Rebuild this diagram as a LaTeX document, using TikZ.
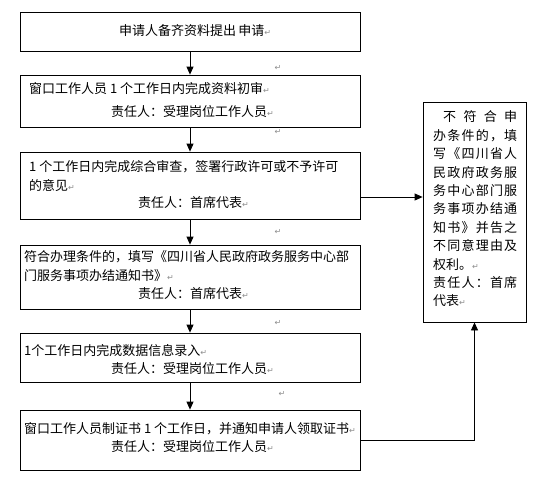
\documentclass[tikz,border=0pt]{standalone}
\usepackage{fontspec}
\usetikzlibrary{arrows.meta}
\newfontfamily\cjk{Noto Sans CJK SC}
\newfontfamily\symfont{DejaVu Sans}
\definecolor{retgray}{HTML}{8C8C8C}
\newcommand\retmk{{\color{retgray}\symfont\fontsize{8}{8}\selectfont ↵}}
\newcommand\rbline[1]{\makebox[84pt][s]{#1}}
\tikzset{
  box/.style={draw, line width=0.8pt, inner sep=0pt},
  txt/.style={anchor=west, inner sep=0pt, font=\cjk\fontsize{13}{13}\selectfont},
  mk/.style={inner sep=0pt},
  arr/.style={draw, line width=0.8pt, -{Triangle[length=8pt,width=7pt]}}
}
\begin{document}
\begin{tikzpicture}[x=1pt,y=-1pt]
\useasboundingbox (0,0) rectangle (540,490);
% boxes
\node[box, minimum width=340pt, minimum height=39pt] (b1) at (190,31.5) {};
\node[box, minimum width=340pt, minimum height=52pt] (b2) at (190,101) {};
\node[box, minimum width=340pt, minimum height=67pt] (b3) at (190,185.5) {};
\node[box, minimum width=340pt, minimum height=64pt] (b4) at (190,277) {};
\node[box, minimum width=340pt, minimum height=49pt] (b5) at (190,357.5) {};
\node[box, minimum width=340pt, minimum height=60pt] (b6) at (190,440) {};
\node[box, minimum width=103pt, minimum height=220pt] (r) at (474.5,212) {};
% texts
\node[txt] (t1) at (119,31) {申请人备齐资料提出\,申请\retmk};
\node[txt] (t2a) at (29,89) {窗口工作人员 1 个工作日内完成资料初审\retmk};
\node[txt] (t2b) at (111,112) {责任人：受理岗位工作人员\retmk};
\node[txt] (t3a) at (29,167) {1 个工作日内完成综合审查，签署行政许可或不予许可};
\node[txt] (t3b) at (29,185) {的意见\retmk};
\node[txt] (t3c) at (138,203) {责任人：首席代表\retmk};
\node[txt] (t4a) at (24,257) {符合办理条件的，填写《四川省人民政府政务服务中心部};
\node[txt] (t4b) at (24,276) {门服务事项办结通知书》\retmk};
\node[txt] (t4c) at (138,294) {责任人：首席代表\retmk};
\node[txt] (t5a) at (24,351) {1个工作日内完成数据信息录入\retmk};
\node[txt] (t5b) at (111,369) {责任人：受理岗位工作人员\retmk};
\node[txt] (t6a) at (24,429) {窗口工作人员制证书 1 个工作日，并通知申请人领取证书\retmk};
\node[txt] (t6b) at (111,447) {责任人：受理岗位工作人员\retmk};
% right box text
\node[txt] (r1) at (443,117) {\makebox[74pt][s]{不\hfil 符\hfil 合\hfil 申}};
\node[txt] (r2) at (433,135.4) {\rbline{办\hfil 条\hfil 件\hfil 的\hfil ，\hfil 填}};
\node[txt] (r3) at (433,153.8) {\rbline{写\hfil 《\hfil 四\hfil 川\hfil 省\hfil 人}};
\node[txt] (r4) at (433,172.2) {\rbline{民\hfil 政\hfil 府\hfil 政\hfil 务\hfil 服}};
\node[txt] (r5) at (433,190.6) {\rbline{务\hfil 中\hfil 心\hfil 部\hfil 门\hfil 服}};
\node[txt] (r6) at (433,209) {\rbline{务\hfil 事\hfil 项\hfil 办\hfil 结\hfil 通}};
\node[txt] (r7) at (433,227.4) {\rbline{知\hfil 书\hfil 》\hfil 并\hfil 告\hfil 之}};
\node[txt] (r8) at (433,245.8) {\rbline{不\hfil 同\hfil 意\hfil 理\hfil 由\hfil 及}};
\node[txt] (r9) at (433,264.2) {权利。\retmk};
\node[txt] (r10) at (433,282.6) {\rbline{责\hfil 任\hfil 人\hfil ：\hfil 首\hfil 席}};
\node[txt] (r11) at (433,301) {代表\retmk};
% stray paragraph marks
\node[mk] (m1) at (278,68) {\retmk};
\node[mk] (m2) at (278,132) {\retmk};
\node[mk] (m3) at (278,232) {\retmk};
\node[mk] (m4) at (278,323) {\retmk};
\node[mk] (m5) at (282,394) {\retmk};
% connectors
\draw[arr] (b1.south) -- (b2.north);
\draw[arr] (b2.south) -- (b3.north);
\draw[arr] (b3.south) -- (b4.north);
\draw[arr] (b4.south) -- (b5.north);
\draw[arr] (b5.south) -- (b6.north);
\draw[arr] ([yshift=-11.5pt]b3.east) -- ([yshift=-11.5pt]b3.east -| r.west);
\draw[arr] (b6.east) -| (r.south);
\end{tikzpicture}
\end{document}
